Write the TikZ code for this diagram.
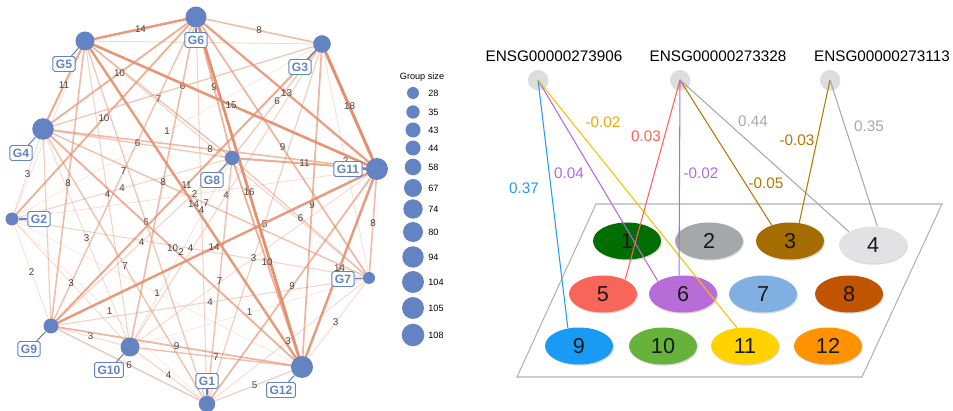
\documentclass[tikz,border=0pt]{standalone}
\usepackage{fontspec}
\setmainfont{Liberation Sans}
\usetikzlibrary{shapes.geometric,backgrounds,shadows}

\definecolor{netblue}{RGB}{99,131,194}
\definecolor{netedge}{RGB}{228,144,110}
\definecolor{wgttext}{RGB}{70,70,70}
\definecolor{genegray}{RGB}{221,221,221}
\definecolor{framegray}{RGB}{178,178,178}
\definecolor{cblue}{RGB}{30,155,255}
\definecolor{cpurple}{RGB}{180,105,225}
\definecolor{cyellow}{RGB}{245,192,0}
\definecolor{corange}{RGB}{240,168,0}
\definecolor{cred}{RGB}{255,95,90}
\definecolor{cbrown}{RGB}{180,118,0}
\definecolor{cgray}{RGB}{168,168,168}
\definecolor{k1}{RGB}{0,110,0}
\definecolor{k2}{RGB}{164,168,168}
\definecolor{k3}{RGB}{165,108,0}
\definecolor{k4}{RGB}{226,226,229}
\definecolor{k5}{RGB}{248,102,90}
\definecolor{k6}{RGB}{184,108,216}
\definecolor{k7}{RGB}{128,176,226}
\definecolor{k8}{RGB}{192,84,0}
\definecolor{k9}{RGB}{25,155,245}
\definecolor{k10}{RGB}{102,178,58}
\definecolor{k11}{RGB}{255,210,0}
\definecolor{k12}{RGB}{255,146,0}

\tikzset{
  grp/.style={circle,fill=netblue,inner sep=0pt,minimum size=#1*0.4mm},
  tag/.style={draw=netblue,fill=white,rounded corners=1pt,text=netblue,
    font=\fontsize{6.9}{7}\selectfont\bfseries,inner xsep=1.7pt,inner ysep=0pt,
    minimum height=3mm,line width=0.55pt},
  tie/.style={netblue,line width=0.6pt},
  wgt/.style={font=\fontsize{5.6}{6}\selectfont,text=wgttext,inner sep=0.5pt},
  key/.style={font=\fontsize{5.2}{6}\selectfont,inner sep=0pt},
  cls/.style={ellipse,fill=#1,minimum width=13.6mm,minimum height=7.4mm,inner sep=0pt,
    font=\fontsize{12.3}{13}\selectfont,text=black!90,
    drop shadow={shadow xshift=0.5pt,shadow yshift=-0.7pt,opacity=0.3}},
  gene/.style={circle,fill=genegray,minimum size=4mm,inner sep=0pt,
    drop shadow={shadow xshift=0.3pt,shadow yshift=-0.5pt,opacity=0.2}},
  glbl/.style={font=\fontsize{8.7}{9}\selectfont,inner sep=0pt},
  corr/.style={line width=0.6pt},
  clbl/.style={font=\fontsize{8.7}{9}\selectfont,inner sep=0pt}
}

\begin{document}
\begin{tikzpicture}[x=0.02cm,y=-0.02cm]
\useasboundingbox (0,0) rectangle (953,411);

\node[grp=10.5] (g6) at (196,17) {};
\node[grp=9.5] (g5) at (85,41) {};
\node[grp=8.8] (g3) at (322,44) {};
\node[grp=10.8] (g4) at (43,129) {};
\node[grp=7.2] (g8) at (232,158) {};
\node[grp=11] (g11) at (377,169) {};
\node[grp=6.5] (g2) at (12,219) {};
\node[grp=6] (g7) at (369,278) {};
\node[grp=7.5] (g9) at (51,326) {};
\node[grp=9.5] (g10) at (130,347) {};
\node[grp=11] (g12) at (302,367) {};
\node[grp=8.2] (g1) at (207,404) {};

\node[tag] (t6) at (196,40) {G6};
\node[tag] (t5) at (64,64) {G5};
\node[tag] (t3) at (300,67) {G3};
\node[tag] (t4) at (21,153) {G4};
\node[tag] (t8) at (212,180) {G8};
\node[tag] (t11) at (348,169) {G11};
\node[tag] (t2) at (39,219) {G2};
\node[tag] (t7) at (343,279) {G7};
\node[tag] (t9) at (29,349) {G9};
\node[tag] (t10) at (109,370) {G10};
\node[tag] (t12) at (281,390) {G12};
\node[tag] (t1) at (207,381) {G1};

\begin{pgfonlayer}{background}
\foreach \a/\b/\w in {g2/g5/2,g3/g5/3,g4/g9/5,g5/g7/4}{
  \pgfmathsetmacro\lw{(0.5+0.14*\w)*0.569}
  \pgfmathsetmacro\op{min(1,0.2+0.05*\w)}
  \draw[netedge,line width=\lw pt,draw opacity=\op] (\a.center) -- (\b.center);
}
\foreach \a/\b/\w in {g5/g6/14,g6/g3/8,g5/g4/11,g4/g6/10,g2/g6/10,g3/g4/6,g5/g8/7,
  g3/g2/1,g6/g8/9,g5/g11/15,g3/g8/6,g6/g11/13,g3/g11/18,g4/g11/8,g6/g7/9,g8/g11/11,
  g3/g7/2,g6/g12/16,g3/g10/4,g3/g12/9,g8/g7/6,g11/g7/8,g3/g1/5,g11/g9/14,g11/g10/3,
  g8/g12/10,g11/g12/14,g2/g11/2,g3/g9/11,g5/g12/14,g4/g7/7,g6/g1/4,g4/g8/6,g6/g9/7,
  g5/g9/8,g4/g2/3,g6/g10/8,g2/g8/4,g5/g10/4,g5/g1/6,g4/g10/3,g8/g9/4,g4/g12/10,
  g8/g10/2,g2/g7/4,g4/g1/7,g2/g9/2,g2/g10/3,g2/g12/1,g2/g1/1,g9/g10/3,g9/g12/9,
  g9/g1/6,g10/g1/4,g8/g1/7,g11/g1/9,g9/g7/4,g10/g7/1,g7/g12/3,g7/g1/3,g10/g12/7,
  g1/g12/5}{
  \pgfmathsetmacro\lw{(0.5+0.14*\w)*0.569}
  \pgfmathsetmacro\op{min(1,0.2+0.05*\w)}
  \draw[netedge,line width=\lw pt,draw opacity=\op] (\a.center) -- (\b.center)
    node[midway,wgt] {\w};
}
\foreach \i in {1,...,12}
  \draw[tie] (g\i) -- (t\i);
\end{pgfonlayer}

\node[key] (gs) at (422,77) {Group size};
\foreach \s/\r/\y in {28/6/93,35/6.7/112,43/7.5/130,44/7.5/148,58/8.3/167,
  67/9/188,74/9.7/209,80/10/232,94/10.7/257,104/11/282,105/11/308,108/11.3/335}{
  \node[grp=\r] (n\s) at (413,\y) {};
  \node[key,anchor=west] (m\s) at (428,\y) {\s};
}

\draw[framegray,line width=0.6pt] (596,204) -- (942,204) -- (862,377) -- (517,377) -- cycle;

\node[cls=k1] (c1) at (627,241) {1};
\node[cls=k2] (c2) at (709,241) {2};
\node[cls=k3] (c3) at (790,241) {3};
\node[cls=k4] (c4) at (873,245) {4};
\node[cls=k5] (c5) at (603,294) {5};
\node[cls=k6] (c6) at (683,294) {6};
\node[cls=k7] (c7) at (763,294) {7};
\node[cls=k8] (c8) at (849,294) {8};
\node[cls=k9] (c9) at (579,346) {9};
\node[cls=k10] (c10) at (663,346) {10};
\node[cls=k11] (c11) at (745,346) {11};
\node[cls=k12] (c12) at (828,346) {12};

\node[gene] (e1) at (538,80) {};
\node[gene] (e2) at (680,80) {};
\node[gene] (e3) at (830,80) {};
\node[glbl] (h1) at (554,56) {ENSG00000273906};
\node[glbl] (h2) at (718,56) {ENSG00000273328};
\node[glbl] (h3) at (882,56) {ENSG00000273113};

\draw[corr,cblue] (e1.center) -- (c9.122);
\draw[corr,cpurple] (e1.center) -- (c6.153);
\draw[corr,cyellow] (e1.center) -- (c11.114);
\draw[corr,cred] (e2.center) -- (c5.33);
\draw[corr,cpurple] (e2.center) -- (c6.102);
\draw[corr,cbrown] (e2.center) -- (c3.139);
\draw[corr,cgray] (e2.center) -- (c4.151);
\draw[corr,cbrown] (e3.center) -- (c3.63);
\draw[corr,cgray] (e3.center) -- (c4.77);

\node[clbl,text=cblue] (w1) at (524,188) {0.37};
\node[clbl,text=cpurple] (w2) at (569,173) {0.04};
\node[clbl,text=corange] (w3) at (603,122) {-0.02};
\node[clbl,text=cred] (w4) at (646,136) {0.03};
\node[clbl,text=cpurple] (w5) at (701,173) {-0.02};
\node[clbl,text=cgray] (w6) at (753,121) {0.44};
\node[clbl,text=cbrown] (w7) at (766,183) {-0.05};
\node[clbl,text=cbrown] (w8) at (797,140) {-0.03};
\node[clbl,text=cgray] (w9) at (869,126) {0.35};
\end{tikzpicture}
\end{document}
